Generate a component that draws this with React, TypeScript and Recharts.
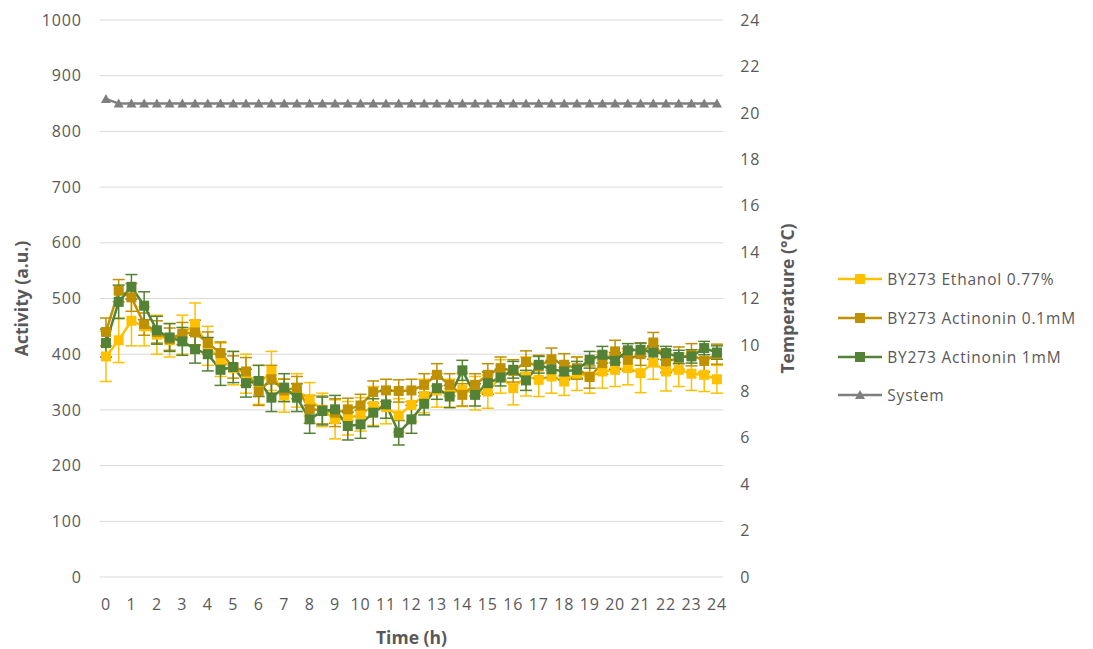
import React from 'react';
import { LineChart, Line, XAxis, YAxis, CartesianGrid, ErrorBar, Legend, Label } from 'recharts';

const times = [0, 0.5, 1, 1.5, 2, 2.5, 3, 3.5, 4, 4.5, 5, 5.5, 6, 6.5, 7, 7.5, 8, 8.5, 9, 9.5, 10, 10.5, 11, 11.5, 12, 12.5, 13, 13.5, 14, 14.5, 15, 15.5, 16, 16.5, 17, 17.5, 18, 18.5, 19, 19.5, 20, 20.5, 21, 21.5, 22, 22.5, 23, 23.5, 24];

const ethanol = [396, 425, 460, 450, 435, 425, 435, 454, 415, 390, 375, 365, 345, 370, 326, 335, 319, 300, 283, 285, 292, 307, 305, 290, 309, 325, 335, 330, 336, 330, 333, 360, 339, 360, 354, 360, 351, 365, 360, 369, 372, 375, 366, 385, 369, 372, 365, 363, 355];
const ethanolErr = [45, 40, 45, 35, 35, 30, 35, 38, 35, 30, 30, 35, 35, 35, 30, 30, 30, 30, 35, 30, 30, 35, 30, 30, 30, 30, 30, 25, 30, 30, 30, 30, 30, 35, 30, 30, 25, 30, 30, 30, 30, 30, 35, 30, 35, 30, 30, 30, 25];

const actinonin01 = [440, 514, 502, 454, 440, 427, 437, 439, 420, 402, 377, 369, 333, 355, 335, 340, 301, 300, 295, 301, 308, 332, 335, 334, 335, 345, 363, 345, 327, 345, 363, 375, 370, 386, 378, 391, 381, 375, 359, 384, 405, 390, 400, 421, 387, 393, 399, 388, 400];
const actinonin01Err = [25, 20, 25, 20, 20, 20, 20, 22, 20, 20, 20, 25, 25, 25, 20, 20, 25, 25, 25, 20, 20, 20, 20, 20, 20, 20, 20, 20, 20, 20, 20, 20, 20, 20, 20, 20, 20, 20, 20, 20, 20, 20, 20, 18, 20, 20, 20, 20, 18];

const actinonin1 = [420, 494, 521, 487, 443, 430, 423, 409, 400, 372, 377, 348, 352, 322, 340, 322, 283, 298, 301, 271, 274, 295, 310, 259, 283, 311, 339, 324, 371, 327, 348, 358, 372, 353, 381, 373, 369, 372, 390, 399, 388, 407, 408, 403, 402, 395, 396, 411, 403];
const actinonin1Err = [25, 30, 22, 25, 25, 25, 25, 25, 30, 28, 28, 25, 28, 25, 25, 25, 25, 25, 25, 25, 25, 25, 25, 22, 25, 20, 20, 20, 18, 20, 20, 15, 15, 18, 15, 15, 15, 15, 15, 15, 15, 12, 12, 12, 12, 12, 12, 12, 12];

const systemTemp = [20.6, 20.4, 20.4, 20.4, 20.4, 20.4, 20.4, 20.4, 20.4, 20.4, 20.4, 20.4, 20.4, 20.4, 20.4, 20.4, 20.4, 20.4, 20.4, 20.4, 20.4, 20.4, 20.4, 20.4, 20.4, 20.4, 20.4, 20.4, 20.4, 20.4, 20.4, 20.4, 20.4, 20.4, 20.4, 20.4, 20.4, 20.4, 20.4, 20.4, 20.4, 20.4, 20.4, 20.4, 20.4, 20.4, 20.4, 20.4, 20.4];

const xTicks = [0, 1, 2, 3, 4, 5, 6, 7, 8, 9, 10, 11, 12, 13, 14, 15, 16, 17, 18, 19, 20, 21, 22, 23, 24];
const leftTicks = [0, 100, 200, 300, 400, 500, 600, 700, 800, 900, 1000];
const rightTicks = [0, 2, 4, 6, 8, 10, 12, 14, 16, 18, 20, 22, 24];

const seriesNames = ['BY273 Ethanol 0.77%', 'BY273 Actinonin 0.1mM', 'BY273 Actinonin 1mM', 'System'];
const xTitle = 'Time (h)';
const leftTitle = 'Activity (a.u.)';
const rightTitle = 'Temperature (°C)';

const C_YELLOW = '#FFC000';
const C_GOLD = '#BF9000';
const C_GREEN = '#538135';
const C_GRAY = '#7F7F7F';
const TEXT = '#595959';
const FONT = '"Open Sans", sans-serif';

const data = times.map((t, i) => ({
  t,
  eth: ethanol[i],
  ethErr: ethanolErr[i],
  a01: actinonin01[i],
  a01Err: actinonin01Err[i],
  a1: actinonin1[i],
  a1Err: actinonin1Err[i],
  sys: systemTemp[i],
}));

const squareDot = (color: string) => (props: any) => {
  const { cx, cy, index } = props;
  if (cx == null || cy == null) return <g key={`e-${index}`} />;
  return <rect key={`sq-${index}`} x={cx - 5} y={cy - 5} width={10} height={10} fill={color} />;
};

const triangleDot = (color: string) => (props: any) => {
  const { cx, cy, index } = props;
  if (cx == null || cy == null) return <g key={`e-${index}`} />;
  return (
    <polygon
      key={`tr-${index}`}
      points={`${cx},${cy - 5} ${cx - 5},${cy + 4} ${cx + 5},${cy + 4}`}
      fill={color}
    />
  );
};

const legendItems = [
  { name: seriesNames[0], color: C_YELLOW, shape: 'square' },
  { name: seriesNames[1], color: C_GOLD, shape: 'square' },
  { name: seriesNames[2], color: C_GREEN, shape: 'square' },
  { name: seriesNames[3], color: C_GRAY, shape: 'triangle' },
];

const renderLegend = () => (
  <div style={{ paddingLeft: 40, fontFamily: FONT, fontSize: 15.5, color: TEXT }}>
    {legendItems.map((it) => (
      <div key={it.name} style={{ display: 'flex', alignItems: 'center', height: 38.7 }}>
        <svg width={44} height={14} style={{ display: 'block', flexShrink: 0 }}>
          <line x1={0} y1={7} x2={44} y2={7} stroke={it.color} strokeWidth={2.5} />
          {it.shape === 'square' ? (
            <rect x={17} y={2} width={10} height={10} fill={it.color} />
          ) : (
            <polygon points="22,2 17,11 27,11" fill={it.color} />
          )}
        </svg>
        <span style={{ marginLeft: 5, whiteSpace: 'nowrap', letterSpacing: 0.8, flexShrink: 0 }}>{it.name}</span>
      </div>
    ))}
  </div>
);

const leftLabel = (props: any) => {
  const vb = props.viewBox || {};
  const x = vb.x + 21;
  const y = vb.y + vb.height / 2;
  return (
    <text x={x} y={y} transform={`rotate(-90 ${x} ${y})`} textAnchor="middle" dominantBaseline="central"
      fill={TEXT} fontFamily={FONT} fontSize={17.5} fontWeight="bold">{leftTitle}</text>
  );
};

const rightLabel = (props: any) => {
  const vb = props.viewBox || {};
  const x = vb.x + 64;
  const y = vb.y + vb.height / 2;
  return (
    <text x={x} y={y} transform={`rotate(-90 ${x} ${y})`} textAnchor="middle" dominantBaseline="central"
      fill={TEXT} fontFamily={FONT} fontSize={17.5} fontWeight="bold">{rightTitle}</text>
  );
};

const bottomLabel = (props: any) => {
  const vb = props.viewBox || {};
  const x = vb.x + vb.width / 2;
  const y = vb.y + 60;
  return (
    <text x={x} y={y} textAnchor="middle" dominantBaseline="central"
      fill={TEXT} fontFamily={FONT} fontSize={17.5} fontWeight="bold">{xTitle}</text>
  );
};

const tickStyle = { fill: TEXT, fontSize: 16, fontFamily: FONT, letterSpacing: 0.8 };

export default function App() {
  return (
    <div style={{ position: 'absolute', left: 0, top: 0, width: 1093, height: 649, background: '#fff' }}>
      <LineChart width={1093} height={649} data={data} margin={{ top: 20, right: 34.7, bottom: 0, left: 0 }}>
        <CartesianGrid yAxisId="left" vertical={false} stroke="#D9D9D9" strokeWidth={1} />
        <XAxis
          dataKey="t"
          type="number"
          domain={[-0.25, 24.25]}
          ticks={xTicks}
          interval={0}
          axisLine={false}
          tickLine={false}
          tickSize={0}
          tickMargin={22}
          height={72}
          tick={tickStyle}
        >
          <Label content={bottomLabel} />
        </XAxis>
        <YAxis
          yAxisId="left"
          domain={[0, 1000]}
          ticks={leftTicks}
          interval={0}
          axisLine={false}
          tickLine={false}
          tickSize={0}
          tickMargin={18}
          width={99.6}
          tick={tickStyle}
        >
          <Label content={leftLabel} />
        </YAxis>
        <YAxis
          yAxisId="right"
          orientation="right"
          domain={[0, 24]}
          ticks={rightTicks}
          interval={0}
          axisLine={false}
          tickLine={false}
          tickSize={0}
          tickMargin={17}
          width={75}
          tick={tickStyle}
        >
          <Label content={rightLabel} />
        </YAxis>
        <Legend
          layout="vertical"
          align="right"
          verticalAlign="top"
          width={260}
          content={renderLegend}
          wrapperStyle={{ top: 260, right: 'auto', left: 798.3 }}
        />
        <Line yAxisId="left" dataKey="eth" name={seriesNames[0]} stroke={C_YELLOW} strokeWidth={2.5}
          dot={squareDot(C_YELLOW)} activeDot={false} isAnimationActive={false}>
          <ErrorBar dataKey="ethErr" direction="y" width={6} stroke={C_YELLOW} strokeWidth={1.5} />
        </Line>
        <Line yAxisId="left" dataKey="a01" name={seriesNames[1]} stroke={C_GOLD} strokeWidth={2.5}
          dot={squareDot(C_GOLD)} activeDot={false} isAnimationActive={false}>
          <ErrorBar dataKey="a01Err" direction="y" width={6} stroke={C_GOLD} strokeWidth={1.5} />
        </Line>
        <Line yAxisId="left" dataKey="a1" name={seriesNames[2]} stroke={C_GREEN} strokeWidth={2.5}
          dot={squareDot(C_GREEN)} activeDot={false} isAnimationActive={false}>
          <ErrorBar dataKey="a1Err" direction="y" width={6} stroke={C_GREEN} strokeWidth={1.5} />
        </Line>
        <Line yAxisId="right" dataKey="sys" name={seriesNames[3]} stroke={C_GRAY} strokeWidth={2.5}
          dot={triangleDot(C_GRAY)} activeDot={false} isAnimationActive={false} />
      </LineChart>
    </div>
  );
}
